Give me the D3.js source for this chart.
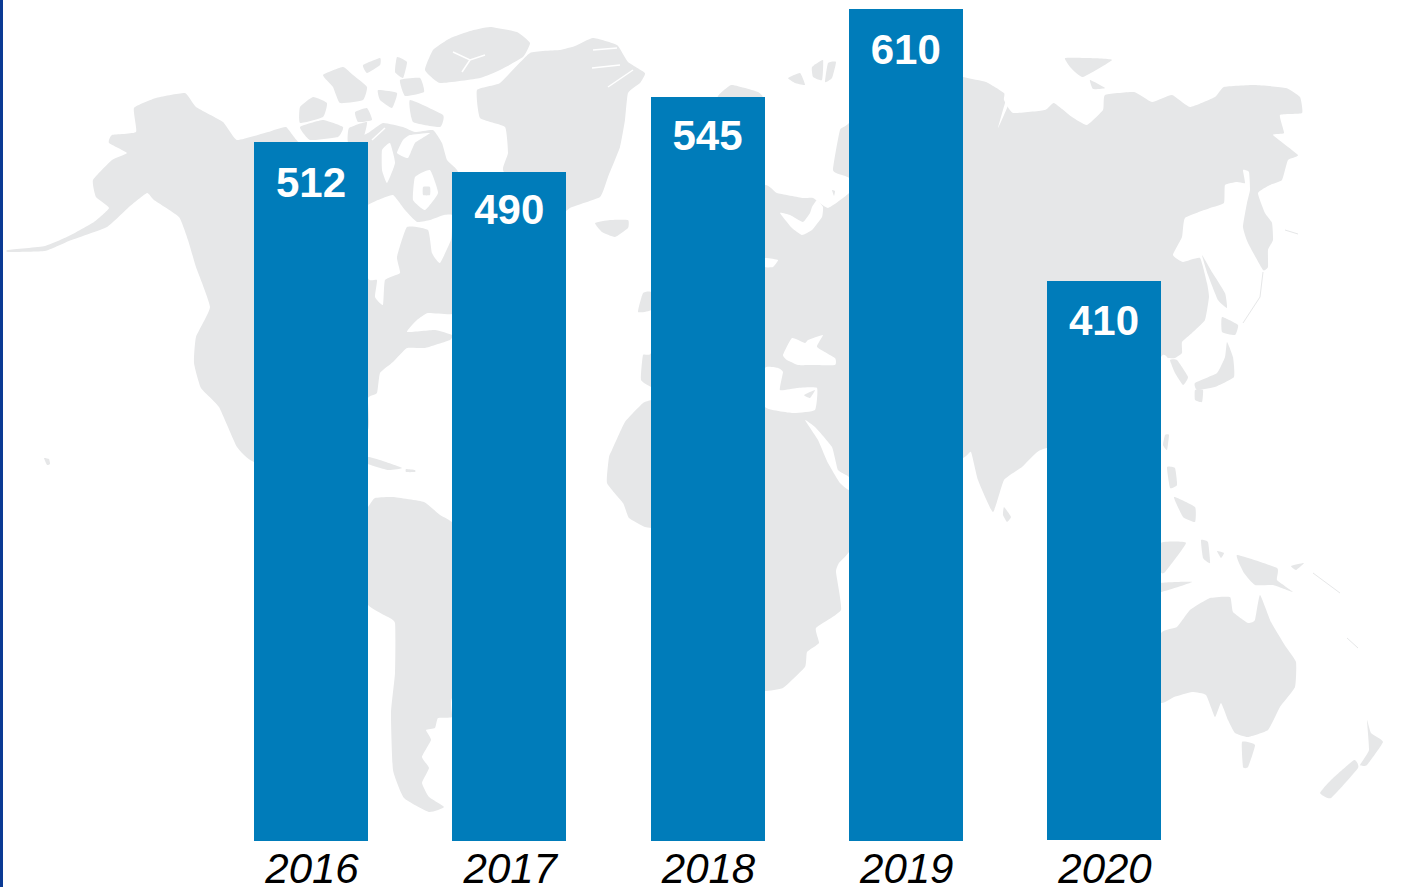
<!DOCTYPE html>
<html>
<head>
<meta charset="utf-8">
<script src="https://cdn.jsdelivr.net/npm/d3@7/dist/d3.min.js"></script>
<style>
html,body{margin:0;padding:0;background:#fff;overflow:hidden}
svg{display:block}
</style>
</head>
<body>
<svg id="chart" width="1402" height="887"></svg>
<script>
// ---- chart data ----
const years = ["2016","2017","2018","2019","2020"];
const values = [512,490,545,610,410];
// vertical drop of each value label below its bar top
const labelDrops = [55,52,53,55,54];
// the last bar stops one pixel short of the shared baseline in the reference
const baselineTrim = [0,0,0,0,1];

// ---- backdrop world map outlines (decorative, page coordinates) ----
const landNorthAmerica = [[8,250],[45,246],[69,236],[94,222],[109,208],[96,197],[93,180],[112,160],[127,153],[109,143],[112,135],[136,132],[134,108],[156,98],[185,93],[196,107],[223,122],[237,140],[268,132],[286,127],[300,143],[340,145],[368,133],[383,123],[403,127],[415,132],[433,130],[442,143],[447,160],[457,170],[470,200],[470,300],[452,314],[428,313],[417,320],[407,332],[435,330],[452,335],[450,340],[425,348],[407,348],[393,362],[380,373],[377,393],[368,398],[368,430],[330,480],[254,462],[237,447],[219,407],[201,388],[194,363],[196,337],[210,307],[196,267],[188,240],[179,217],[154,200],[147,193],[129,207],[107,227],[69,241],[45,251],[8,252]];
const landGreenland = [[530,53],[560,50],[575,46],[593,38],[617,45],[628,62],[645,73],[640,83],[628,93],[625,120],[620,147],[608,177],[600,197],[570,208],[545,228],[520,200],[503,170],[508,153],[505,127],[480,118],[477,90],[500,83]];
const landEllesmere = [[453,37],[470,31],[490,27],[517,32],[530,43],[523,57],[500,70],[480,78],[440,83],[425,70],[433,50],[447,40]];
const landIceland = [[595,223],[610,220],[628,220],[628,228],[615,237],[602,232]];
const landArctic = [
  [[323,75],[343,67],[353,75],[367,87],[363,100],[340,103],[333,87]],
  [[363,65],[380,58],[380,65],[367,73]],
  [[378,90],[397,93],[392,108],[380,100]],
  [[397,57],[407,62],[403,78],[395,72]],
  [[410,100],[443,115],[440,127],[413,122]],
  [[300,107],[313,97],[327,103],[323,117],[300,123]],
  [[300,127],[323,120],[343,127],[338,137],[310,140]],
  [[355,112],[367,108],[372,120],[358,122]],
  [[349,128],[367,122],[362,142],[348,142]],
  [[400,80],[420,78],[424,92],[405,96]]
];
const landSouthAmerica = [[368,507],[375,498],[393,497],[424,502],[440,515],[452,522],[500,560],[515,590],[490,640],[452,698],[452,717],[438,718],[435,728],[426,730],[431,740],[422,757],[429,768],[422,783],[429,797],[444,807],[429,812],[404,798],[393,770],[391,713],[395,673],[395,623],[384,615],[368,605],[330,560]];
const landCaribbean = [
  [[368,457],[380,460],[402,468],[388,470],[368,464]],
  [[406,469],[415,470],[415,472],[406,472]]
];
const landAfroEurasia = [[651,400],[643,403],[625,422],[612,450],[609,457],[607,483],[623,503],[629,518],[645,527],[660,530],[700,560],[740,690],[765,691],[783,688],[805,667],[807,652],[819,643],[816,628],[841,610],[836,572],[839,563],[849,552],[880,500],[900,480],[963,458],[971,452],[978,480],[993,512],[1004,480],[1022,467],[1036,453],[1047,448],[1120,440],[1161,357],[1168,358],[1175,358],[1182,353],[1182,342],[1192,333],[1205,320],[1209,297],[1207,283],[1200,258],[1183,262],[1173,255],[1182,237],[1185,218],[1210,208],[1224,203],[1225,185],[1237,182],[1245,183],[1243,170],[1249,172],[1250,190],[1247,203],[1243,227],[1248,243],[1263,270],[1268,267],[1268,250],[1273,240],[1272,223],[1265,213],[1258,193],[1270,185],[1282,180],[1288,160],[1298,155],[1273,135],[1284,133],[1280,115],[1302,113],[1300,97],[1286,88],[1255,85],[1224,87],[1215,97],[1190,107],[1172,95],[1152,102],[1134,92],[1105,95],[1103,110],[1087,125],[1072,117],[1054,103],[1045,110],[1013,113],[1004,100],[1004,93],[986,82],[963,77],[900,60],[849,123],[840,130],[833,170],[842,175],[849,178],[849,193],[828,208],[813,198],[803,198],[777,193],[765,185],[700,190],[660,300],[651,353],[643,355],[641,380],[651,387],[660,395]];
const landAsiaIslands = [
  [[1170,360],[1177,360],[1188,377],[1183,385],[1175,373]],
  [[1202,255],[1212,272],[1225,293],[1227,308],[1218,300],[1208,275]],
  [[1222,317],[1238,325],[1235,335],[1222,332]],
  [[1227,342],[1233,357],[1234,377],[1215,387],[1197,390],[1195,383],[1217,373],[1225,357]],
  [[1195,390],[1203,390],[1202,402],[1195,400]],
  [[1165,435],[1169,435],[1167,450],[1163,445]],
  [[1167,467],[1175,468],[1177,485],[1170,488]],
  [[1174,497],[1195,507],[1195,522],[1183,517]],
  [[1004,507],[1011,517],[1007,522],[1003,515]],
  [[1065,58],[1089,58],[1112,60],[1083,77],[1071,68]],
  [[1090,80],[1105,88],[1093,89]]
];
const landEuropeIslands = [
  [[651,292],[643,293],[638,312],[651,310]],
  [[718,97],[731,85],[745,88],[758,92],[762,97]],
  [[788,78],[800,73],[805,85],[795,83]],
  [[812,67],[823,60],[822,80],[813,77]],
  [[828,63],[836,62],[832,78],[825,82]],
  [[832,190],[835,191],[834,196]]
];
const landOceania = [
  [[1161,633],[1177,627],[1190,610],[1210,598],[1230,597],[1233,612],[1248,623],[1255,620],[1260,595],[1271,622],[1286,647],[1296,662],[1295,687],[1280,707],[1268,730],[1248,737],[1235,733],[1228,720],[1221,703],[1215,717],[1206,695],[1192,692],[1174,697],[1161,703],[1120,690]],
  [[1242,742],[1255,745],[1248,767],[1243,767]],
  [[1367,720],[1371,733],[1383,742],[1367,765],[1360,765],[1369,750]],
  [[1354,760],[1358,768],[1331,798],[1320,793],[1331,780]],
  [[1237,555],[1277,568],[1277,580],[1293,592],[1273,585],[1255,585],[1244,573]],
  [[1161,543],[1186,543],[1165,572],[1161,572]],
  [[1201,540],[1208,542],[1210,563],[1203,558]],
  [[1161,583],[1192,582],[1161,592]],
  [[1217,551],[1224,553],[1221,558]],
  [[1291,566],[1304,563],[1296,570]],
  [[44,458],[49,459],[50,464],[47,465]]
];
// white seas and bays laid over the land
const seaPolygons = [
  [[368,213],[368,205],[378,200],[393,195],[405,210],[417,222],[430,220],[444,215],[452,215],[452,227],[451,240],[440,263],[432,253],[428,230],[407,227],[397,257],[400,273],[385,280],[383,305],[375,297],[377,280],[368,278]],
  [[410,135],[430,133],[415,143],[408,158],[397,153],[403,140]],
  [[382,150],[390,143],[395,163],[387,183],[382,170]],
  [[415,177],[430,170],[438,193],[425,210],[413,200]],
  [[792,338],[805,343],[808,340],[823,335],[817,347],[835,358],[835,365],[813,365],[798,365],[787,360],[783,355]],
  [[765,368],[778,368],[783,372],[780,390],[797,388],[817,388],[815,410],[793,413],[765,407]],
  [[805,420],[815,427],[832,447],[838,470],[849,477],[849,490],[840,483],[828,463],[818,440]],
  [[765,258],[778,260],[773,267],[765,267]],
  [[780,213],[790,215],[803,222],[810,213],[812,207],[817,200],[823,207],[822,217],[812,230],[802,235],[792,228]],
  [[998,128],[1006,100],[1009,103],[1004,115]]
];
const landOverSea = [
  [[423,187],[430,187],[430,195],[423,195]],
  [[804,395],[815,390],[810,398]]
];
const coastLines = [
  [[593,50],[617,48]], [[592,68],[620,65]], [[608,87],[633,70]],
  [[453,52],[470,60],[485,55]], [[470,60],[462,72]],
  [[147,195],[127,212]],
  [[385,128],[372,140]]
];
const faintChains = [
  [[1263,272],[1260,297],[1243,323]],
  [[1285,230],[1298,234]],
  [[1313,573],[1340,593]],
  [[1347,638],[1358,648]]
];

const WIDTH = 1402, HEIGHT = 887;
const BAR = "#007cba", LAND = "#e6e7e8", EDGE = "#0a3a94";

const svg = d3.select("#chart");
const line = d3.line().x(d => d[0]).y(d => d[1]).curve(d3.curveCardinalClosed.tension(0.6));
const open = d3.line().x(d => d[0]).y(d => d[1]);

// backdrop
const landAll = [landNorthAmerica, landGreenland, landEllesmere, landIceland, ...landArctic,
  landSouthAmerica, ...landCaribbean, landAfroEurasia, ...landAsiaIslands, ...landEuropeIslands, ...landOceania];
const map = svg.append("g").attr("class","map");
map.selectAll("path.land").data(landAll).join("path").attr("class","land")
  .attr("d", line).attr("fill", LAND);
map.selectAll("path.sea").data(seaPolygons).join("path").attr("class","sea")
  .attr("d", line).attr("fill", "#fff");
map.selectAll("path.over").data(landOverSea).join("path").attr("class","over")
  .attr("d", line).attr("fill", LAND);
map.selectAll("path.coast").data(coastLines).join("path").attr("class","coast")
  .attr("d", open).attr("fill","none").attr("stroke","#fff").attr("stroke-width",1.5);
map.selectAll("path.chain").data(faintChains).join("path").attr("class","chain")
  .attr("d", open).attr("fill","none").attr("stroke",LAND).attr("stroke-width",1);

// left edge strip
svg.append("rect").attr("width",3).attr("height",HEIGHT).attr("fill",EDGE);

// scales
const x = d3.scaleBand().domain(years).range([254,1161]).paddingInner(0.425).paddingOuter(0);
const y = d3.scaleLinear().domain([0,610]).range([841,8.5]);

// bars
svg.selectAll("rect.bar").data(values).join("rect").attr("class","bar")
  .attr("x",(d,i)=>Math.round(x(years[i])))
  .attr("y",d=>Math.round(y(d)))
  .attr("width",Math.round(x.bandwidth()))
  .attr("height",(d,i)=>y(0)-Math.round(y(d))-baselineTrim[i])
  .attr("fill",BAR);

// value labels
svg.selectAll("text.value").data(values).join("text").attr("class","value")
  .attr("x",(d,i)=>x(years[i])+x.bandwidth()/2)
  .attr("y",(d,i)=>Math.round(y(d))+labelDrops[i])
  .attr("text-anchor","middle")
  .attr("font-family","'Liberation Sans',Arial,sans-serif")
  .attr("font-weight","700").attr("font-size",42).attr("fill","#fff")
  .text(d=>d);

// year axis
const axis = svg.append("g").attr("transform","translate(0,841)")
  .call(d3.axisBottom(x).tickSize(0).tickPadding(0));
axis.select(".domain").remove();
axis.selectAll("text")
  .attr("x",1).attr("y",42).attr("dy",0)
  .attr("font-family","'Liberation Sans',Arial,sans-serif")
  .attr("font-style","italic").attr("font-size",42).attr("fill","#000");
</script>
</body>
</html>
